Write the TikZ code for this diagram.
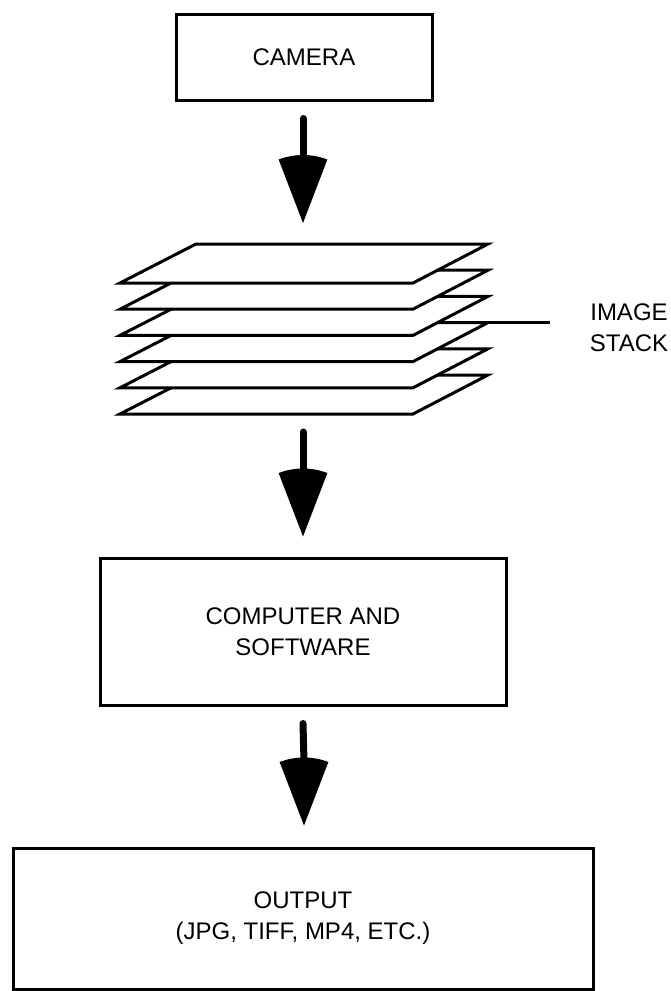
\documentclass[tikz,border=0pt]{standalone}
\usepackage{fontspec}
\setmainfont{Liberation Sans}
\usetikzlibrary{calc}
\newcommand\fatarrow[2]{%
  \draw[shaft] (#1) -- ($(#2)+(0,64)$);
  \fill (#2) -- ++(69:68) arc[start angle=69,end angle=111,radius=68] -- cycle;}
\begin{document}
\begin{tikzpicture}[x=1pt,y=1pt,
  box/.style={draw, line width=3pt, inner sep=0pt, align=center, font=\fontsize{24}{31}\selectfont},
  sheet/.style={draw, fill=white, line width=3pt, line join=miter},
  shaft/.style={line width=7pt, line cap=round},
  leader/.style={line width=3pt},
  lbl/.style={align=center, font=\fontsize{24}{31}\selectfont}]
\useasboundingbox (0,0) rectangle (671,-991);
% boxes
\node[box, minimum width=256pt, minimum height=86pt] (cam) at (304,-57) {CAMERA};
\node[box, minimum width=406pt, minimum height=147pt] (comp) at (303,-631.5) {COMPUTER AND\\SOFTWARE};
\node[box, minimum width=580pt, minimum height=141pt] (out) at (303,-918.5) {OUTPUT\\(JPG, TIFF, MP4, ETC.)};
% image stack
\foreach \i in {5,4,3,2,1,0}{
  \pgfmathsetmacro\yy{-244-26.2*\i}
  \draw[sheet] (196,\yy) -- (488,\yy) -- (413,\yy-39) -- (120,\yy-39) -- cycle;
}
\coordinate (stacktop) at (304,-244);
\coordinate (stackbot) at (304,-414);
\coordinate (ldrstart) at (488,-322.6);
\coordinate (ldrend) at (550,-322.6);
\draw[leader] (ldrstart) -- (ldrend);
\node[lbl] (imgstack) at (629,-327.5) {IMAGE\\STACK};
% arrows
\coordinate (a1s) at ($(cam.south)+(-1,-17)$);
\coordinate (a1t) at ($(stacktop)+(-1,21)$);
\fatarrow{a1s}{a1t}
\coordinate (a2s) at ($(stackbot)+(-1,-18)$);
\coordinate (a2t) at ($(comp.north)+(0,20)$);
\fatarrow{a2s}{a2t}
\coordinate (a3s) at ($(comp.south)+(0,-17)$);
\coordinate (a3t) at ($(out.north)+(1,21)$);
\fatarrow{a3s}{a3t}
\end{tikzpicture}
\end{document}
